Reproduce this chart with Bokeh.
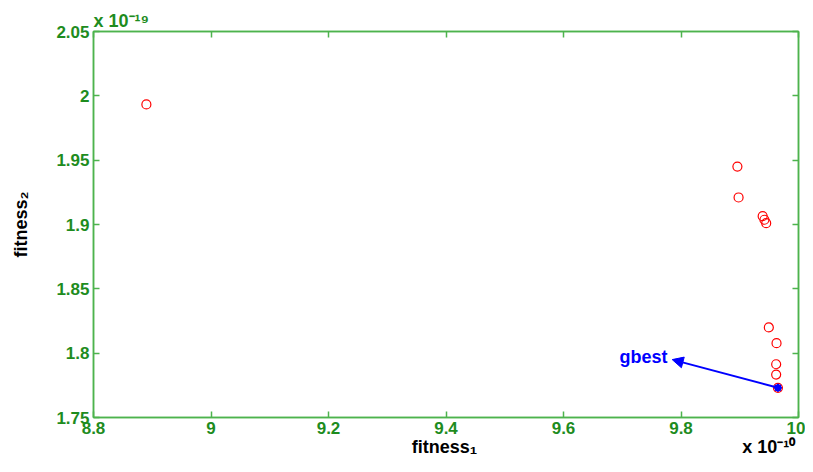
from bokeh.plotting import figure
from bokeh.models import Label, Arrow, NormalHead, FixedTicker, LinearAxis, Range1d, Title
from bokeh.embed import file_html
from bokeh.resources import INLINE

# ---- data (fitness_1 in units of 1e-10, fitness_2 in units of 1e-19)
fitness1 = [8.890, 9.896, 9.898, 9.939, 9.942, 9.945, 9.9495, 9.9626, 9.962, 9.962, 9.965]
fitness2 = [1.9933, 1.945, 1.921, 1.9065, 1.9037, 1.901, 1.820, 1.8078, 1.7914, 1.7834, 1.7731]
gbest_x = [9.965]
gbest_y = [1.7731]
gbest_label = "gbest"
gbest_label_pos = (9.777, 1.7974)
arrow_tip = (9.785, 1.795)

x_ticks = [8.8, 9.0, 9.2, 9.4, 9.6, 9.8, 10.0]
x_tick_labels = ["8.8", "9", "9.2", "9.4", "9.6", "9.8", "10"]
y_ticks = [1.75, 1.8, 1.85, 1.9, 1.95, 2.0, 2.05]
y_tick_labels = ["1.75", "1.8", "1.85", "1.9", "1.95", "2", "2.05"]

x_title = "fitness\u2081"
y_title = "fitness\u2082"
x_exponent = "x 10\u207b\u00b9\u2070"
y_exponent = "x 10\u207b\u00b9\u2079"

AXIS_GREEN = "#4db34d"
TEXT_GREEN = "#1e8c1e"
FONT = "Liberation Sans"
NB = "\u00a0"

p = figure(width=805, height=464, output_backend="svg", toolbar_location=None,
           x_range=Range1d(8.8, 10.0), y_range=Range1d(1.75, 2.05),
           x_axis_location=None, y_axis_location=None,
           min_border_left=93, min_border_right=7, min_border_top=31, min_border_bottom=47)
p.grid.visible = False
p.outline_line_color = AXIS_GREEN
p.outline_line_width = 1.5
p.background_fill_color = "white"
p.border_fill_color = "white"

def make_axis(ticks, labels, show_labels):
    ax = LinearAxis(ticker=FixedTicker(ticks=ticks))
    ax.major_label_overrides = {t: l for t, l in zip(ticks, labels)} if show_labels else {t: "" for t in ticks}
    ax.axis_line_color = AXIS_GREEN
    ax.axis_line_width = 1.5
    ax.major_tick_line_color = AXIS_GREEN
    ax.major_tick_line_width = 1.5
    ax.major_tick_in = 6
    ax.major_tick_out = 0
    ax.minor_tick_line_color = None
    ax.major_label_text_color = TEXT_GREEN
    ax.major_label_text_font = FONT
    ax.major_label_text_font_style = "bold"
    ax.major_label_text_font_size = "17px"
    ax.major_label_standoff = 4
    ax.axis_label_text_font = FONT
    ax.axis_label_text_font_style = "bold"
    ax.axis_label_text_font_size = "18px"
    ax.axis_label_text_color = "black"
    return ax

xa = make_axis(x_ticks, x_tick_labels, True)
# x title centred, with the multiplier pushed to the right end of the same line
xa.axis_label = NB * 63 + x_title + NB * 53 + x_exponent
xa.axis_label_standoff = 0
ya = make_axis(y_ticks, y_tick_labels, True)
ya.axis_label = y_title
ya.axis_label_standoff = 22
p.add_layout(xa, "below")
p.add_layout(ya, "left")

top = make_axis(x_ticks, x_tick_labels, False)
right = make_axis(y_ticks, y_tick_labels, False)
top.major_label_text_font_size = "0px"
right.major_label_text_font_size = "0px"
top.major_label_standoff = 0
right.major_label_standoff = 0
p.add_layout(top, "above")
p.add_layout(right, "right")

p.add_layout(Title(text=y_exponent, align="left", text_color=TEXT_GREEN, text_font=FONT,
                   text_font_style="bold", text_font_size="18px", standoff=2), "above")

# points
p.scatter(fitness1, fitness2, marker="circle", size=9, fill_color=None,
          line_color="red", line_width=1.2)
p.scatter(gbest_x, gbest_y, marker="asterisk", size=8, line_color="blue", line_width=2)
p.scatter(gbest_x, gbest_y, marker="circle", size=6, fill_color="blue", line_color="blue")

# arrow and label
p.add_layout(Arrow(end=NormalHead(size=11, fill_color="blue", line_color="blue"),
                   x_start=gbest_x[0], y_start=gbest_y[0],
                   x_end=arrow_tip[0], y_end=arrow_tip[1],
                   line_color="blue", line_width=2))
p.add_layout(Label(x=gbest_label_pos[0], y=gbest_label_pos[1], text=gbest_label,
                   text_color="blue", text_font=FONT, text_font_style="bold",
                   text_font_size="18px", text_align="right", text_baseline="middle"))

open("out.html", "w").write(file_html(p, INLINE))
